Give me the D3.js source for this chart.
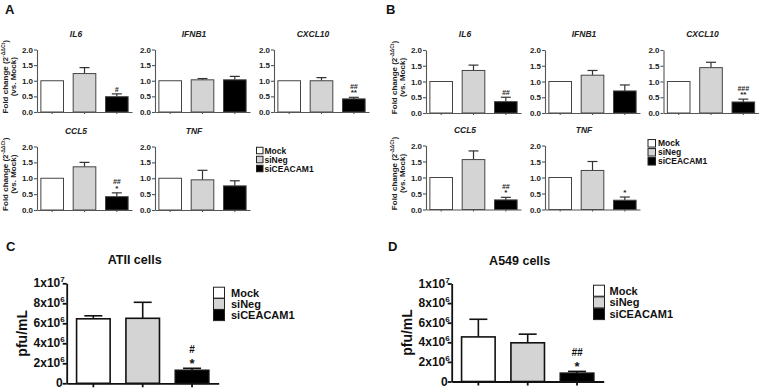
<!DOCTYPE html>
<html>
<head>
<meta charset="utf-8">
<script src="https://cdn.jsdelivr.net/npm/d3@7"></script>
<style>
  html, body { margin: 0; padding: 0; background: #fff; }
  svg { display: block; font-family: "Liberation Sans", Arial, sans-serif; font-weight: bold; }
</style>
</head>
<body>
<svg id="fig" width="760" height="389"></svg>
<script>
// groups and genes
const groups = ["Mock", "siNeg", "siCEACAM1"];
const genes = ["IL6", "IFNB1", "CXCL10", "CCL5", "TNF"];
const groupColors = ["#ffffff", "#d4d4d4", "#000000"];

// panel A (ATII cells), fold change
const atiiMeans = [[1.0, 1.23, 0.49], [1.0, 1.03, 1.03], [1.0, 1.0, 0.42], [1.0, 1.36, 0.42], [1.0, 0.95, 0.76]];
const atiiErrors = [[0, 0.19, 0.09], [0, 0.04, 0.11], [0, 0.1, 0.05], [0, 0.14, 0.12], [0, 0.3, 0.16]];
const atiiMarks = [["#"], [], ["##", "**"], ["##", "*"], []];

// panel B (A549 cells), fold change
const a549Means = [[1.0, 1.35, 0.36], [1.0, 1.2, 0.7], [1.0, 1.44, 0.35], [1.0, 1.56, 0.3], [1.0, 1.22, 0.29]];
const a549Errors = [[0, 0.17, 0.14], [0, 0.15, 0.19], [0, 0.17, 0.09], [0, 0.27, 0.08], [0, 0.28, 0.1]];
const a549Marks = [["##"], [], ["###", "**"], ["##", "*"], ["*"]];

const foldTicks = [0, 0.5, 1.0, 1.5, 2.0];

// panels C and D, virus titer
const atiiTiter = [6.45e6, 6.5e6, 1.3e6];
const atiiTiterErr = [0.3e6, 1.6e6, 0.2e6];
const atiiTiterMarks = ["#", "*"];
const a549Titer = [4.55e6, 3.95e6, 0.85e6];
const a549TiterErr = [1.8e6, 0.88e6, 0.18e6];
const a549TiterMarks = ["##", "*"];
const pfuTicks = [0, 2e6, 4e6, 6e6, 8e6, 1e7];

const svg = d3.select("#fig");

function foldPlot(x0, yTop, yBottom, gene, means, errs, marks, withLabel) {
    const g = svg.append("g");
    const x = d3.scaleBand().domain(groups).range([x0, x0 + 95]).paddingInner(0.3).paddingOuter(0.12);
    const y = d3.scaleLinear().domain([0, 2]).range([yBottom, yTop]);

    const rows = groups.map((k, i) => ({ key: k, v: means[i], e: errs[i], c: groupColors[i] }));

    // error bars (upper only)
    rows.filter(d => d.e > 0).forEach(d => {
        const cx = x(d.key) + x.bandwidth() / 2;
        g.append("line").attr("x1", cx).attr("x2", cx)
            .attr("y1", y(d.v)).attr("y2", y(d.v + d.e))
            .attr("stroke", "#333").attr("stroke-width", 1.2);
        g.append("line").attr("x1", cx - 5).attr("x2", cx + 5)
            .attr("y1", y(d.v + d.e)).attr("y2", y(d.v + d.e))
            .attr("stroke", "#333").attr("stroke-width", 1.2);
    });

    g.selectAll(".bar").data(rows).enter().append("rect")
        .attr("x", d => x(d.key))
        .attr("y", d => y(d.v))
        .attr("width", x.bandwidth())
        .attr("height", d => yBottom - y(d.v))
        .attr("fill", d => d.c)
        .attr("stroke", "#444")
        .attr("stroke-width", 1);

    const yAxis = g.append("g")
        .attr("transform", `translate(${x0},0)`)
        .call(d3.axisLeft(y).tickValues(foldTicks).tickFormat(d3.format(".1f")).tickSize(3).tickSizeOuter(0));
    const xAxis = g.append("g")
        .attr("transform", `translate(0,${yBottom})`)
        .call(d3.axisBottom(x).tickSize(2).tickSizeOuter(0).tickFormat(""));
    [yAxis, xAxis].forEach(a => {
        a.selectAll("path, line").attr("stroke", "#555").attr("stroke-width", 1.1);
        a.selectAll("text").attr("font-size", 8).attr("font-weight", "bold").attr("fill", "#222")
            .attr("font-family", "Liberation Sans, Arial, sans-serif");
    });
    yAxis.selectAll("text").attr("x", -4);

    // significance marks on siCEACAM1, stacked in one text block
    if (marks.length) {
        const last = rows[2];
        const cx = x(last.key) + x.bandwidth() / 2;
        const topY = y(last.v + last.e);
        const t = g.append("text").attr("text-anchor", "middle").attr("fill", "#222")
            .attr("x", cx).attr("y", topY - 2 - (marks.length - 1) * 6.5);
        marks.forEach((m, i) => {
            t.append("tspan").attr("x", cx).attr("dy", i === 0 ? 0 : 6.5)
                .attr("font-size", m.startsWith("#") ? 7 : 8)
                .attr("font-style", m.startsWith("#") ? "italic" : "normal")
                .text(m);
        });
    }

    g.append("text").attr("x", x0 + 39).attr("y", yTop - 13)
        .attr("text-anchor", "middle").attr("font-size", 8.5).attr("font-style", "italic")
        .attr("fill", "#222").text(gene);

    if (withLabel) {
        const cy = (yTop + yBottom) / 2 - 4;
        const t1 = g.append("text")
            .attr("transform", `translate(${x0 - 29},${cy}) rotate(-90)`)
            .attr("text-anchor", "middle").attr("font-size", 8).attr("fill", "#222");
        t1.append("tspan").text("Fold change (2");
        t1.append("tspan").attr("dy", -3.5).attr("font-size", 5).text("-ΔΔCt");
        t1.append("tspan").attr("dy", 3.5).text(")");
        g.append("text")
            .attr("transform", `translate(${x0 - 21},${cy}) rotate(-90)`)
            .attr("text-anchor", "middle").attr("font-size", 8).attr("fill", "#222")
            .text("(vs. Mock)");
    }
}

function legend(x, y0, step, size, fs, textX) {
    groups.forEach((k, i) => {
        svg.append("rect").attr("x", x).attr("y", y0 + i * step - size / 2)
            .attr("width", size).attr("height", size)
            .attr("fill", groupColors[i]).attr("stroke", "#222").attr("stroke-width", 1);
        svg.append("text").attr("x", textX).attr("y", y0 + i * step + fs * 0.36)
            .attr("font-size", fs).attr("fill", "#111").text(k);
    });
}

function titerPlot(x0, yTop, yBottom, title, vals, errs, marks) {
    const g = svg.append("g");
    const x = d3.scaleBand().domain(groups).range([x0, x0 + 152]).paddingInner(0.32).paddingOuter(0.2);
    const y = d3.scaleLinear().domain([0, 1e7]).range([yBottom, yTop]);
    const rows = groups.map((k, i) => ({ key: k, v: vals[i], e: errs[i], c: groupColors[i] }));

    rows.forEach(d => {
        const cx = x(d.key) + x.bandwidth() / 2;
        g.append("line").attr("x1", cx).attr("x2", cx)
            .attr("y1", y(d.v)).attr("y2", y(d.v + d.e))
            .attr("stroke", "#111").attr("stroke-width", 1.6);
        g.append("line").attr("x1", cx - 9).attr("x2", cx + 9)
            .attr("y1", y(d.v + d.e)).attr("y2", y(d.v + d.e))
            .attr("stroke", "#111").attr("stroke-width", 1.6);
    });

    g.selectAll(".bar").data(rows).enter().append("rect")
        .attr("x", d => x(d.key))
        .attr("y", d => y(d.v))
        .attr("width", x.bandwidth())
        .attr("height", d => yBottom - y(d.v))
        .attr("fill", d => d.c)
        .attr("stroke", "#111")
        .attr("stroke-width", 1.6);

    const yAxis = g.append("g")
        .attr("transform", `translate(${x0},0)`)
        .call(d3.axisLeft(y).tickValues(pfuTicks).tickSize(4).tickSizeOuter(0));
    const xAxis = g.append("g")
        .attr("transform", `translate(0,${yBottom})`)
        .call(d3.axisBottom(x).tickSize(4).tickSizeOuter(0).tickFormat(""));
    [yAxis, xAxis].forEach(a => {
        a.selectAll("path, line").attr("stroke", "#111").attr("stroke-width", 1.8);
    });
    yAxis.selectAll("text")
        .attr("font-size", 12).attr("font-weight", "bold").attr("fill", "#111")
        .attr("font-family", "Liberation Sans, Arial, sans-serif").attr("x", -2).attr("dy", "0.3em")
        .each(function (d) {
            const t = d3.select(this);
            t.text(null);
            if (d === 0) { t.text("0").attr("x", -4); return; }
            const exp = Math.floor(Math.log10(d));
            const mant = Math.round(d / Math.pow(10, exp));
            t.append("tspan").text(`${mant}x10`);
            t.append("tspan").attr("dy", -5).attr("font-size", 8).text(exp);
        });

    // significance marks, stacked in one text block
    const last = rows[2];
    const cx = x(last.key) + x.bandwidth() / 2;
    const topY = y(last.v + last.e);
    const t = g.append("text").attr("text-anchor", "middle").attr("fill", "#111")
        .attr("x", cx).attr("y", topY - 15);
    marks.forEach((m, i) => {
        const hash = m.startsWith("#");
        t.append("tspan").attr("x", cx).attr("dy", i === 0 ? 0 : 15)
            .attr("font-size", hash ? 10 : 13)
            .attr("font-style", hash && m.length > 1 ? "italic" : "normal")
            .text(m);
    });

    g.append("text").attr("x", x0 + 68).attr("y", yTop - 19)
        .attr("text-anchor", "middle").attr("font-size", 12.5).attr("fill", "#111").text(title);

    g.append("text")
        .attr("transform", `translate(${x0 - 40},${(yTop + yBottom) / 2}) rotate(-90)`)
        .attr("text-anchor", "middle").attr("font-size", 14).attr("fill", "#111").text("pfu/mL");
}

// panel letters
[["A", 5, 14], ["B", 386, 14], ["C", 6, 251], ["D", 388, 251]].forEach(([t, x, y]) => {
    svg.append("text").attr("x", x).attr("y", y).attr("font-size", 13).attr("fill", "#111").text(t);
});

// panel A
const aX = [37, 155, 274];
foldPlot(aX[0], 49.5, 112, genes[0], atiiMeans[0], atiiErrors[0], atiiMarks[0], true);
foldPlot(aX[1], 49.5, 112, genes[1], atiiMeans[1], atiiErrors[1], atiiMarks[1], false);
foldPlot(aX[2], 49.5, 112, genes[2], atiiMeans[2], atiiErrors[2], atiiMarks[2], false);
foldPlot(aX[0], 146.5, 210, genes[3], atiiMeans[3], atiiErrors[3], atiiMarks[3], true);
foldPlot(aX[1], 146.5, 210, genes[4], atiiMeans[4], atiiErrors[4], atiiMarks[4], false);
legend(256.5, 150.5, 9, 6.5, 8.5, 264.5);

// panel B
const bX = [426, 545, 663.5];
foldPlot(bX[0], 50, 113, genes[0], a549Means[0], a549Errors[0], a549Marks[0], true);
foldPlot(bX[1], 50, 113, genes[1], a549Means[1], a549Errors[1], a549Marks[1], false);
foldPlot(bX[2], 50, 113, genes[2], a549Means[2], a549Errors[2], a549Marks[2], false);
foldPlot(bX[0], 145.5, 209.5, genes[3], a549Means[3], a549Errors[3], a549Marks[3], true);
foldPlot(bX[1], 145.5, 209.5, genes[4], a549Means[4], a549Errors[4], a549Marks[4], false);
legend(648, 143.3, 9, 7.5, 8.5, 658);

// panels C and D
titerPlot(66.7, 283.3, 383.3, "ATII cells", atiiTiter, atiiTiterErr, atiiTiterMarks);
legend(213.5, 292.7, 11.2, 11, 11, 231);
titerPlot(451.7, 283.5, 381.5, "A549 cells", a549Titer, a549TiterErr, a549TiterMarks);
legend(593.5, 290.7, 11.7, 11, 11, 609.5);
</script>
</body>
</html>
